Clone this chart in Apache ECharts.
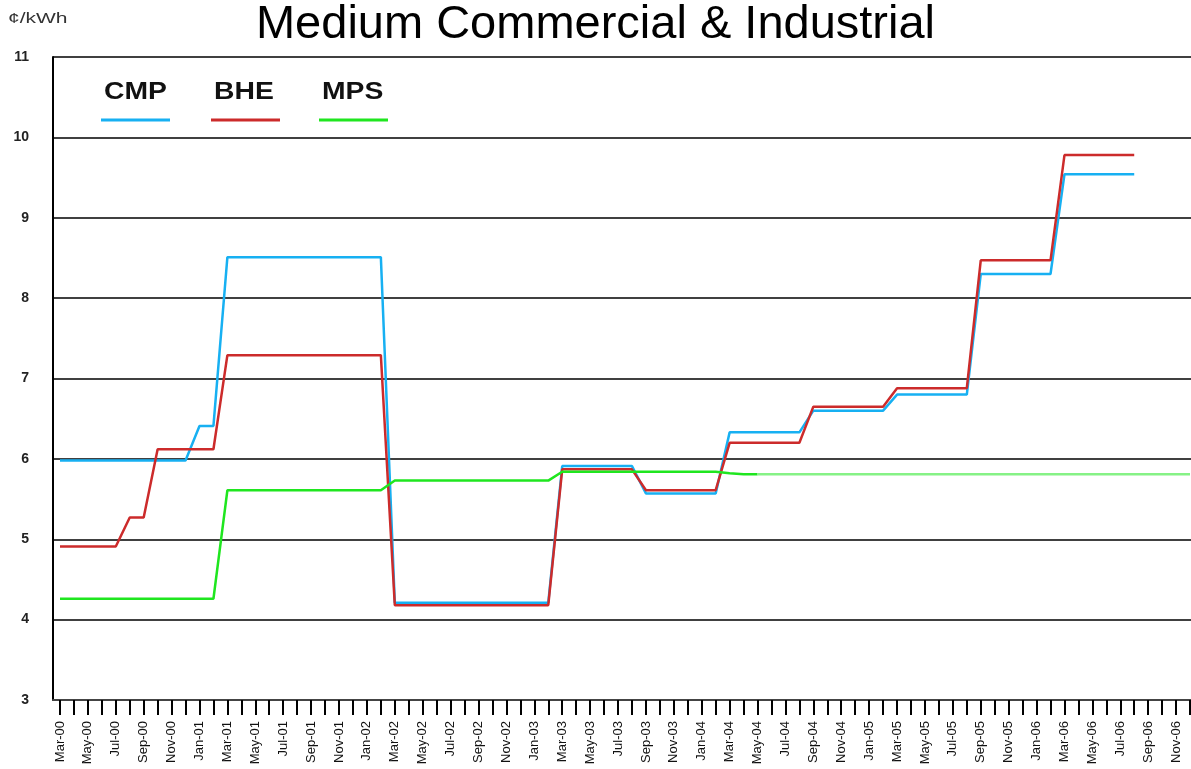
<!DOCTYPE html>
<html>
<head>
<meta charset="utf-8">
<title>Medium Commercial & Industrial</title>
<script src="https://cdn.jsdelivr.net/npm/echarts@6/dist/echarts.min.js"></script>
<style>
  html, body { margin: 0; padding: 0; background: #fff; }
  #chart { width: 1191px; height: 769px; }
</style>
</head>
<body>
<div id="chart"></div>
<script>
// Monthly categories, Mar-00 .. Dec-06
const months = [
  "Mar-00","Apr-00","May-00","Jun-00","Jul-00","Aug-00","Sep-00","Oct-00","Nov-00","Dec-00",
  "Jan-01","Feb-01","Mar-01","Apr-01","May-01","Jun-01","Jul-01","Aug-01","Sep-01","Oct-01","Nov-01","Dec-01",
  "Jan-02","Feb-02","Mar-02","Apr-02","May-02","Jun-02","Jul-02","Aug-02","Sep-02","Oct-02","Nov-02","Dec-02",
  "Jan-03","Feb-03","Mar-03","Apr-03","May-03","Jun-03","Jul-03","Aug-03","Sep-03","Oct-03","Nov-03","Dec-03",
  "Jan-04","Feb-04","Mar-04","Apr-04","May-04","Jun-04","Jul-04","Aug-04","Sep-04","Oct-04","Nov-04","Dec-04",
  "Jan-05","Feb-05","Mar-05","Apr-05","May-05","Jun-05","Jul-05","Aug-05","Sep-05","Oct-05","Nov-05","Dec-05",
  "Jan-06","Feb-06","Mar-06","Apr-06","May-06","Jun-06","Jul-06","Aug-06","Sep-06","Oct-06","Nov-06","Dec-06"
];

// ¢/kWh
const cmp = [
  5.98,5.98,5.98,5.98,5.98,5.98,5.98,5.98,5.98,5.98,
  6.41,6.41,8.51,8.51,8.51,8.51,8.51,8.51,8.51,8.51,8.51,8.51,
  8.51,8.51,4.21,4.21,4.21,4.21,4.21,4.21,4.21,4.21,4.21,4.21,
  4.21,4.21,5.91,5.91,5.91,5.91,5.91,5.91,5.57,5.57,5.57,5.57,
  5.57,5.57,6.33,6.33,6.33,6.33,6.33,6.33,6.60,6.60,6.60,6.60,
  6.60,6.60,6.80,6.80,6.80,6.80,6.80,6.80,8.30,8.30,8.30,8.30,
  8.30,8.30,9.54,9.54,9.54,9.54,9.54,9.54,null,null,null,null
];

const bhe = [
  4.91,4.91,4.91,4.91,4.91,5.27,5.27,6.12,6.12,6.12,
  6.12,6.12,7.29,7.29,7.29,7.29,7.29,7.29,7.29,7.29,7.29,7.29,
  7.29,7.29,4.18,4.18,4.18,4.18,4.18,4.18,4.18,4.18,4.18,4.18,
  4.18,4.18,5.87,5.87,5.87,5.87,5.87,5.87,5.61,5.61,5.61,5.61,
  5.61,5.61,6.20,6.20,6.20,6.20,6.20,6.20,6.65,6.65,6.65,6.65,
  6.65,6.65,6.88,6.88,6.88,6.88,6.88,6.88,8.47,8.47,8.47,8.47,
  8.47,8.47,9.78,9.78,9.78,9.78,9.78,9.78,null,null,null,null
];

const mps = [
  4.26,4.26,4.26,4.26,4.26,4.26,4.26,4.26,4.26,4.26,
  4.26,4.26,5.61,5.61,5.61,5.61,5.61,5.61,5.61,5.61,5.61,5.61,
  5.61,5.61,5.73,5.73,5.73,5.73,5.73,5.73,5.73,5.73,5.73,5.73,
  5.73,5.73,5.84,5.84,5.84,5.84,5.84,5.84,5.84,5.84,5.84,5.84,
  5.84,5.84,5.82,5.81,5.81,5.81,5.81,5.81,5.81,5.81,5.81,5.81,
  5.81,5.81,5.81,5.81,5.81,5.81,5.81,5.81,5.81,5.81,5.81,5.81,
  5.81,5.81,5.81,5.81,5.81,5.81,5.81,5.81,5.81,5.81,5.81,5.81
];

// MPS is drawn lighter after this month
const mpsSplit = 50;

const seriesNames = ["CMP", "BHE", "MPS"];
const colors = { CMP: "#17b0f2", BHE: "#cc2b2b", MPS: "#1fe61f" };
const mpsLight = "#86f286";

(function () {
  const el = document.getElementById("chart");
  const chart = echarts.init(el, null, { renderer: "canvas" });
  const font = "'Liberation Sans', Arial, sans-serif";

  const mpsMain = mps.map((v, i) => (i <= mpsSplit ? v : null));
  const mpsTail = mps.map((v, i) => (i >= mpsSplit ? v : null));

  function lineSeries(name, data, color) {
    return {
      name,
      type: "line",
      data,
      symbol: "none",
      connectNulls: false,
      lineStyle: { color, width: 2.5 },
      itemStyle: { color },
      emphasis: { disabled: true },
    };
  }

  // legend: bold name with a coloured line underneath
  const legendX = [104, 214, 322];
  const legendGraphics = [];
  seriesNames.forEach((n, i) => {
    legendGraphics.push({
      type: "text",
      x: legendX[i],
      y: 80,
      scaleX: 1.18,
      style: { text: n, font: "bold 24px " + font, fill: "#111" },
    });
    legendGraphics.push({
      type: "line",
      shape: { x1: legendX[i] - 3, y1: 120, x2: legendX[i] + 66, y2: 120 },
      style: { stroke: colors[n], lineWidth: 3 },
    });
  });

  chart.setOption({
    animation: false,
    backgroundColor: "#fff",
    title: {
      text: "Medium Commercial & Industrial",
      left: "center",
      top: -3,
      textStyle: { fontFamily: font, fontSize: 47, fontWeight: "normal", color: "#000" },
    },
    grid: { left: 53, right: -6, top: 57, bottom: 69, show: false, outerBoundsMode: "none", containLabel: false },
    xAxis: {
      type: "category",
      data: months,
      boundaryGap: true,
      axisLine: { lineStyle: { color: "#444", width: 2 } },
      axisTick: { show: true, alignWithLabel: true, interval: 0, length: 15, lineStyle: { color: "#000", width: 2 } },
      axisLabel: {
        interval: 1,
        rotate: 90,
        margin: 21,
        fontFamily: font,
        fontSize: 13,
        color: "#111",
      },
      splitLine: { show: false },
    },
    yAxis: {
      type: "value",
      min: 3,
      max: 11,
      interval: 1,
      axisLine: { show: true, lineStyle: { color: "#000", width: 2 } },
      axisTick: { show: false },
      axisLabel: { margin: 24, fontFamily: font, fontSize: 14, fontWeight: "bold", color: "#222" },
      splitLine: { lineStyle: { color: "#000", width: 1.5 } },
    },
    graphic: [
      {
        type: "text",
        x: 8,
        y: 11,
        scaleX: 1.4,
        style: { text: "¢/kWh", font: "15px " + font, fill: "#333" },
      },
      ...legendGraphics,
    ],
    series: [
      lineSeries("CMP", cmp, colors.CMP),
      lineSeries("BHE", bhe, colors.BHE),
      lineSeries("MPS", mpsMain, colors.MPS),
      lineSeries("MPS (later)", mpsTail, mpsLight),
    ],
  });

  window.addEventListener("resize", () => chart.resize());
})();
</script>
</body>
</html>
